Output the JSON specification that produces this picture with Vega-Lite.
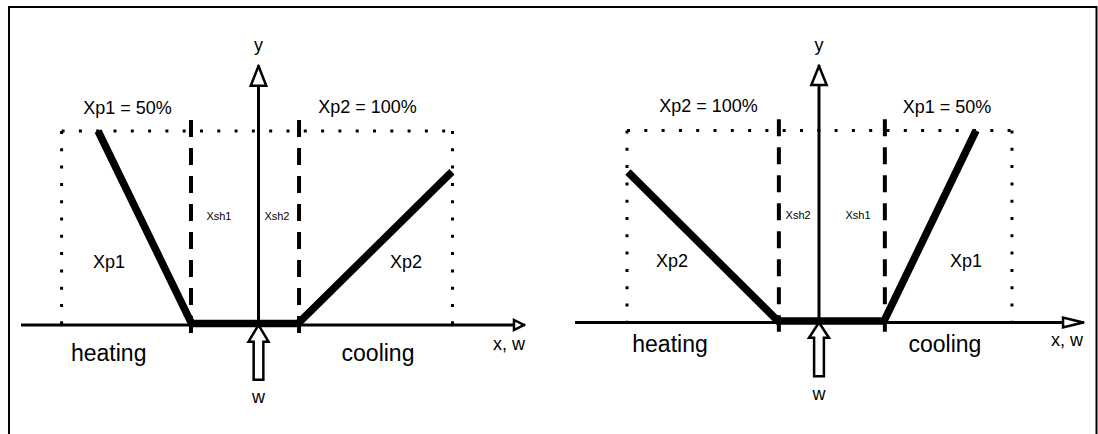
{
  "$schema": "https://vega.github.io/schema/vega-lite/v6.json",
  "width": 1098,
  "height": 434,
  "padding": 0,
  "autosize": {"type": "none"},
  "background": "white",
  "config": {"view": {"stroke": null}},
  "resolve": {"scale": {"x": "independent", "y": "independent"}},
  "datasets": {
    "L_rules": [
      {"kind": "frame", "x": -128.61, "y": 164.43, "x2": -128.61, "y2": -56.186},
      {"kind": "frame", "x": -128.61, "y": 163.92, "x2": 431.96, "y2": 163.92},
      {"kind": "frame", "x": 431.96, "y": 164.43, "x2": 431.96, "y2": -56.186},
      {"kind": "band", "x": -101.5, "y": 100, "x2": 100, "y2": 100},
      {"kind": "band", "x": -101.5, "y": 100, "x2": -101.5, "y2": 0},
      {"kind": "band", "x": 100, "y": 100, "x2": 100, "y2": 0},
      {"kind": "dead", "x": -34.8, "y": 105.7, "x2": -34.8, "y2": -4.6},
      {"kind": "dead", "x": 20.9, "y": 105.7, "x2": 20.9, "y2": -4.6},
      {"kind": "axis", "x": -122.4, "y": 0, "x2": 131.7, "y2": 0},
      {"kind": "axis", "x": 0, "y": 0, "x2": 0, "y2": 123.3}
    ],
    "L_shapes": [
      {"id": "yhead", "i": 0, "x": 0, "y": 133.5},
      {"id": "yhead", "i": 1, "x": 4, "y": 123.3},
      {"id": "yhead", "i": 2, "x": -4, "y": 123.3},
      {"id": "yhead", "i": 3, "x": 0, "y": 133.5},
      {"id": "xhead", "i": 0, "x": 136.9, "y": 0},
      {"id": "xhead", "i": 1, "x": 131.7, "y": 2.6},
      {"id": "xhead", "i": 2, "x": 131.7, "y": -2.6},
      {"id": "xhead", "i": 3, "x": 136.9, "y": 0},
      {"id": "warrow", "i": 0, "x": 0, "y": 0},
      {"id": "warrow", "i": 1, "x": 5.15, "y": -8.6},
      {"id": "warrow", "i": 2, "x": 2.5, "y": -8.6},
      {"id": "warrow", "i": 3, "x": 2.5, "y": -28.2},
      {"id": "warrow", "i": 4, "x": -2.5, "y": -28.2},
      {"id": "warrow", "i": 5, "x": -2.5, "y": -8.6},
      {"id": "warrow", "i": 6, "x": -5.15, "y": -8.6},
      {"id": "warrow", "i": 7, "x": 0, "y": 0}
    ],
    "L_curve": [
      {"i": 0, "x": -82.7, "y": 100},
      {"i": 1, "x": -34.5, "y": 0.8},
      {"i": 2, "x": 20.4, "y": 0.8},
      {"i": 3, "x": 99.7, "y": 79.0}
    ],
    "L_text": [
      {"role": "big", "label": "heating", "x": -77.2, "y": -18.4},
      {"role": "big", "label": "cooling", "x": 61.6, "y": -18.4},
      {"role": "mid", "label": "Xp1 = 50%", "x": -67.5, "y": 108.8},
      {"role": "mid", "label": "Xp2 = 100%", "x": 56.2, "y": 109.1},
      {"role": "mid", "label": "Xp1", "x": -77.1, "y": 29.5},
      {"role": "mid", "label": "Xp2", "x": 76.0, "y": 29.3},
      {"role": "mid", "label": "x, w", "x": 129.1, "y": -12.9},
      {"role": "mid", "label": "w", "x": 0, "y": -40.4},
      {"role": "mid", "label": "y", "x": 0, "y": 141.2},
      {"role": "small", "label": "Xsh1", "x": -20.4, "y": 54.1},
      {"role": "small", "label": "Xsh2", "x": 9.5, "y": 54.1}
    ],
    "R_rules": [
      {"kind": "band", "x": -100, "y": 100, "x2": 100.5, "y2": 100},
      {"kind": "band", "x": -100, "y": 100, "x2": -100, "y2": 0},
      {"kind": "band", "x": 100.5, "y": 100, "x2": 100.5, "y2": 0},
      {"kind": "dead", "x": -20.9, "y": 105.8, "x2": -20.9, "y2": -4.8},
      {"kind": "dead", "x": 34.3, "y": 105.8, "x2": 34.3, "y2": -4.8},
      {"kind": "axis", "x": -127.1, "y": 0, "x2": 127.1, "y2": 0},
      {"kind": "axis", "x": 0, "y": 0, "x2": 0, "y2": 123.7}
    ],
    "R_shapes": [
      {"id": "yhead", "i": 0, "x": 0, "y": 133.6},
      {"id": "yhead", "i": 1, "x": 4, "y": 123.7},
      {"id": "yhead", "i": 2, "x": -4, "y": 123.7},
      {"id": "yhead", "i": 3, "x": 0, "y": 133.6},
      {"id": "xhead", "i": 0, "x": 137.5, "y": 0},
      {"id": "xhead", "i": 1, "x": 127.1, "y": 2.6},
      {"id": "xhead", "i": 2, "x": 127.1, "y": -2.6},
      {"id": "xhead", "i": 3, "x": 137.5, "y": 0},
      {"id": "warrow", "i": 0, "x": 0, "y": 0},
      {"id": "warrow", "i": 1, "x": 5.2, "y": -8.0},
      {"id": "warrow", "i": 2, "x": 2.55, "y": -8.0},
      {"id": "warrow", "i": 3, "x": 2.55, "y": -28.0},
      {"id": "warrow", "i": 4, "x": -2.55, "y": -28.0},
      {"id": "warrow", "i": 5, "x": -2.55, "y": -8.0},
      {"id": "warrow", "i": 6, "x": -5.2, "y": -8.0},
      {"id": "warrow", "i": 7, "x": 0, "y": 0}
    ],
    "R_curve": [
      {"i": 0, "x": -99.5, "y": 78.4},
      {"i": 1, "x": -21.4, "y": 0.8},
      {"i": 2, "x": 33.9, "y": 0.8},
      {"i": 3, "x": 81.8, "y": 100}
    ],
    "R_text": [
      {"role": "big", "label": "heating", "x": -77.6, "y": -15.2},
      {"role": "big", "label": "cooling", "x": 65.6, "y": -15.2},
      {"role": "mid", "label": "Xp2 = 100%", "x": -57.6, "y": 109.8},
      {"role": "mid", "label": "Xp1 = 50%", "x": 66.7, "y": 109.3},
      {"role": "mid", "label": "Xp2", "x": -76.6, "y": 29.1},
      {"role": "mid", "label": "Xp1", "x": 76.6, "y": 29.1},
      {"role": "mid", "label": "x, w", "x": 129.2, "y": -12.2},
      {"role": "mid", "label": "w", "x": 0, "y": -40.4},
      {"role": "mid", "label": "y", "x": 0, "y": 141.4},
      {"role": "small", "label": "Xsh2", "x": -10.9, "y": 53.9},
      {"role": "small", "label": "Xsh1", "x": 20.3, "y": 53.9}
    ]
  },
  "layer": [
    {
      "layer": [
        {
          "data": {"name": "L_rules"},
          "transform": [{"filter": "datum.kind == 'frame'"}],
          "mark": {"type": "rule", "color": "black", "strokeWidth": 2, "strokeCap": "butt"},
          "encoding": {
            "x": {"field": "x", "type": "quantitative", "scale": {"domain": [-133.247, 432.732], "nice": false, "zero": false}, "axis": null},
            "y": {"field": "y", "type": "quantitative", "scale": {"domain": [-56.186, 167.526], "nice": false, "zero": false}, "axis": null},
            "x2": {"field": "x2"},
            "y2": {"field": "y2"}
          }
        },
        {
          "data": {"name": "L_rules"},
          "transform": [{"filter": "datum.kind == 'band'"}],
          "mark": {"type": "rule", "color": "black", "strokeWidth": 3, "strokeCap": "butt", "strokeDash": [3, 14.3]},
          "encoding": {
            "x": {"field": "x", "type": "quantitative", "axis": null},
            "y": {"field": "y", "type": "quantitative", "axis": null},
            "x2": {"field": "x2"},
            "y2": {"field": "y2"}
          }
        },
        {
          "data": {"name": "L_rules"},
          "transform": [{"filter": "datum.kind == 'dead'"}],
          "mark": {"type": "rule", "color": "black", "strokeWidth": 4, "strokeCap": "butt", "strokeDash": [17, 11]},
          "encoding": {
            "x": {"field": "x", "type": "quantitative", "axis": null},
            "y": {"field": "y", "type": "quantitative", "axis": null},
            "x2": {"field": "x2"},
            "y2": {"field": "y2"}
          }
        },
        {
          "data": {"name": "L_rules"},
          "transform": [{"filter": "datum.kind == 'axis'"}],
          "mark": {"type": "rule", "color": "black", "strokeWidth": 3, "strokeCap": "butt"},
          "encoding": {
            "x": {"field": "x", "type": "quantitative", "axis": null},
            "y": {"field": "y", "type": "quantitative", "axis": null},
            "x2": {"field": "x2"},
            "y2": {"field": "y2"}
          }
        },
        {
          "data": {"name": "L_shapes"},
          "mark": {"type": "line", "color": "black", "strokeWidth": 2.5, "strokeJoin": "miter", "strokeCap": "square"},
          "encoding": {
            "x": {"field": "x", "type": "quantitative", "axis": null},
            "y": {"field": "y", "type": "quantitative", "axis": null},
            "detail": {"field": "id"},
            "order": {"field": "i", "type": "quantitative"}
          }
        },
        {
          "data": {"name": "L_curve"},
          "mark": {"type": "line", "color": "black", "strokeWidth": 7.5, "strokeJoin": "miter", "strokeCap": "butt"},
          "encoding": {
            "x": {"field": "x", "type": "quantitative", "axis": null},
            "y": {"field": "y", "type": "quantitative", "axis": null},
            "order": {"field": "i", "type": "quantitative"}
          }
        },
        {
          "data": {"name": "L_text"},
          "transform": [{"filter": "datum.role == 'big'"}],
          "mark": {"type": "text", "font": "Liberation Sans", "fontSize": 23, "align": "center", "baseline": "alphabetic", "color": "black"},
          "encoding": {
            "x": {"field": "x", "type": "quantitative", "axis": null},
            "y": {"field": "y", "type": "quantitative", "axis": null},
            "text": {"field": "label"}
          }
        },
        {
          "data": {"name": "L_text"},
          "transform": [{"filter": "datum.role == 'mid'"}],
          "mark": {"type": "text", "font": "Liberation Sans", "fontSize": 18, "align": "center", "baseline": "alphabetic", "color": "black"},
          "encoding": {
            "x": {"field": "x", "type": "quantitative", "axis": null},
            "y": {"field": "y", "type": "quantitative", "axis": null},
            "text": {"field": "label"}
          }
        },
        {
          "data": {"name": "L_text"},
          "transform": [{"filter": "datum.role == 'small'"}],
          "mark": {"type": "text", "font": "Liberation Sans", "fontSize": 11, "align": "center", "baseline": "alphabetic", "color": "black"},
          "encoding": {
            "x": {"field": "x", "type": "quantitative", "axis": null},
            "y": {"field": "y", "type": "quantitative", "axis": null},
            "text": {"field": "label"}
          }
        }
      ]
    },
    {
      "layer": [
        {
          "data": {"name": "R_rules"},
          "transform": [{"filter": "datum.kind == 'band'"}],
          "mark": {"type": "rule", "color": "black", "strokeWidth": 3, "strokeCap": "butt", "strokeDash": [3, 14.3]},
          "encoding": {
            "x": {"field": "x", "type": "quantitative", "scale": {"domain": [-426.5625, 145.3125], "nice": false, "zero": false}, "axis": null},
            "y": {"field": "y", "type": "quantitative", "scale": {"domain": [-58.07, 167.97], "nice": false, "zero": false}, "axis": null},
            "x2": {"field": "x2"},
            "y2": {"field": "y2"}
          }
        },
        {
          "data": {"name": "R_rules"},
          "transform": [{"filter": "datum.kind == 'dead'"}],
          "mark": {"type": "rule", "color": "black", "strokeWidth": 4, "strokeCap": "butt", "strokeDash": [17, 11]},
          "encoding": {
            "x": {"field": "x", "type": "quantitative", "axis": null},
            "y": {"field": "y", "type": "quantitative", "axis": null},
            "x2": {"field": "x2"},
            "y2": {"field": "y2"}
          }
        },
        {
          "data": {"name": "R_rules"},
          "transform": [{"filter": "datum.kind == 'axis'"}],
          "mark": {"type": "rule", "color": "black", "strokeWidth": 3, "strokeCap": "butt"},
          "encoding": {
            "x": {"field": "x", "type": "quantitative", "axis": null},
            "y": {"field": "y", "type": "quantitative", "axis": null},
            "x2": {"field": "x2"},
            "y2": {"field": "y2"}
          }
        },
        {
          "data": {"name": "R_shapes"},
          "mark": {"type": "line", "color": "black", "strokeWidth": 2.5, "strokeJoin": "miter", "strokeCap": "square"},
          "encoding": {
            "x": {"field": "x", "type": "quantitative", "axis": null},
            "y": {"field": "y", "type": "quantitative", "axis": null},
            "detail": {"field": "id"},
            "order": {"field": "i", "type": "quantitative"}
          }
        },
        {
          "data": {"name": "R_curve"},
          "mark": {"type": "line", "color": "black", "strokeWidth": 7.5, "strokeJoin": "miter", "strokeCap": "butt"},
          "encoding": {
            "x": {"field": "x", "type": "quantitative", "axis": null},
            "y": {"field": "y", "type": "quantitative", "axis": null},
            "order": {"field": "i", "type": "quantitative"}
          }
        },
        {
          "data": {"name": "R_text"},
          "transform": [{"filter": "datum.role == 'big'"}],
          "mark": {"type": "text", "font": "Liberation Sans", "fontSize": 23, "align": "center", "baseline": "alphabetic", "color": "black"},
          "encoding": {
            "x": {"field": "x", "type": "quantitative", "axis": null},
            "y": {"field": "y", "type": "quantitative", "axis": null},
            "text": {"field": "label"}
          }
        },
        {
          "data": {"name": "R_text"},
          "transform": [{"filter": "datum.role == 'mid'"}],
          "mark": {"type": "text", "font": "Liberation Sans", "fontSize": 18, "align": "center", "baseline": "alphabetic", "color": "black"},
          "encoding": {
            "x": {"field": "x", "type": "quantitative", "axis": null},
            "y": {"field": "y", "type": "quantitative", "axis": null},
            "text": {"field": "label"}
          }
        },
        {
          "data": {"name": "R_text"},
          "transform": [{"filter": "datum.role == 'small'"}],
          "mark": {"type": "text", "font": "Liberation Sans", "fontSize": 11, "align": "center", "baseline": "alphabetic", "color": "black"},
          "encoding": {
            "x": {"field": "x", "type": "quantitative", "axis": null},
            "y": {"field": "y", "type": "quantitative", "axis": null},
            "text": {"field": "label"}
          }
        }
      ]
    }
  ]
}
